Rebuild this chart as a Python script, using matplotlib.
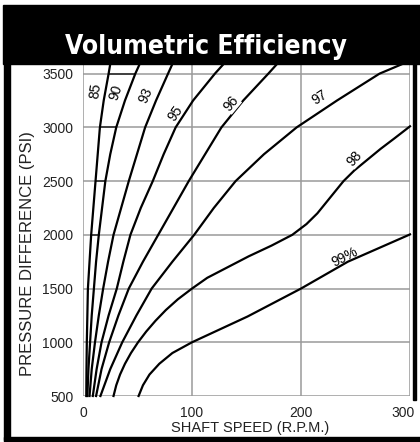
import matplotlib.pyplot as plt
from matplotlib.patches import Rectangle
from matplotlib.transforms import ScaledTranslation

# ---------------------------------------------------------------------------
# Data (rpm at each pressure level)
# ---------------------------------------------------------------------------
psi_levels = [500, 750, 1000, 1250, 1500, 1750, 2000, 2250, 2500, 2750, 3000, 3250, 3500, 3590]

eff_85 = [3, 3.2, 3.5, 4, 4.5, 6, 7.5, 9.5, 11.5, 13.5, 15.5, 19, 23.5, 25]
eff_90 = [4, 5, 6.5, 8, 10, 12, 14.5, 17.5, 20.5, 25, 30.5, 38.5, 48, 52]
eff_93 = [6, 8, 11, 14.5, 18.5, 23, 28, 35, 42, 49.5, 57, 67, 78, 82]
eff_95 = [9, 12.5, 17, 23.5, 31, 37, 43.5, 53, 64, 74, 85, 101, 121, 129]
eff_96 = [12, 17, 24, 32.5, 42, 55, 69, 83, 97, 112, 127, 147, 170, 178]
eff_97 = [16, 25, 36, 49, 63, 82, 102, 120, 140, 166, 196, 233, 272, 293]

eff_98_psi = [500, 600, 700, 800, 900, 1000, 1100, 1200, 1300, 1400, 1500, 1600, 1700,
              1800, 1900, 2000, 2100, 2200, 2300, 2400, 2500, 2600, 2700, 2800, 2900, 3010]
eff_98_rpm = [28, 30.5, 34, 38.5, 44, 50.5, 58, 66.5, 76, 87, 100, 114, 133,
              152, 173, 192, 205, 215, 223, 231, 239, 249, 261, 273, 286, 300]

eff_99_psi = [500, 600, 700, 800, 900, 1000, 1240, 1500, 1750, 2004]
eff_99_rpm = [51, 55, 61, 70, 82, 100, 151, 200, 243, 300]

curve_labels = ["85", "90", "93", "95", "96", "97", "98", "99%"]
label_rpm = [11.4, 29.8, 57.5, 85, 136, 217, 249, 240]
label_psi = [3340, 3325, 3295, 3128, 3220, 3280, 2710, 1793]
label_rot = [82, 72, 66, 55, 50, 33, 48, 27]

x_ticks = [0, 100, 200, 300]
y_ticks = [500, 1000, 1500, 2000, 2500, 3000, 3500]

W, H = 420, 442


def fx(px):
    return px / W


def fy(py):
    return 1 - py / H


fig = plt.figure(figsize=(4.2, 4.42), dpi=100)
fig.patch.set_facecolor("white")

# black frame: header, left bar, bottom bar, right bar
frame = [
    (3, 5, 420, 64),
    (4, 60, 10, 440),
    (4, 437, 420, 442),
    (413, 60, 416, 400),
]
for x0, y0, x1, y1 in frame:
    fig.patches.append(Rectangle((fx(x0), fy(y1)), fx(x1) - fx(x0), fy(y0) - fy(y1),
                                 transform=fig.transFigure, color="black", zorder=0))

fig.text(fx(206), fy(54), "Volumetric Efficiency", color="white", fontsize=19,
         fontweight="bold", family="DejaVu Sans", fontstretch="condensed",
         ha="center", va="baseline")

ax = fig.add_axes([fx(83), fy(396), fx(410) - fx(83), fy(64) - fy(396)])
ax.set_xlim(0, 300)
ax.set_ylim(500, 3590)

for s in ax.spines.values():
    s.set_visible(False)

# grid
for x in x_ticks:
    ax.axvline(x, color="#9a9a9a", lw=1.1, zorder=1)
for y in y_ticks:
    ax.axhline(y, color="#9a9a9a", lw=1.1, zorder=1)

ax.set_xticks(x_ticks)
ax.set_yticks(y_ticks)
ax.tick_params(length=0, labelsize=10, pad=7)
for t in ax.get_xticklabels() + ax.get_yticklabels():
    t.set_family("Liberation Sans")
    t.set_color("#222222")
# keep the last x label inside the frame
last = ax.get_xticklabels()[-1]
last.set_transform(last.get_transform() + ScaledTranslation(-5 / 72, 0, fig.dpi_scale_trans))

# curves
for rpm in [eff_85, eff_90, eff_93, eff_95, eff_96, eff_97]:
    ax.plot(rpm, psi_levels, color="black", lw=1.6, zorder=3, clip_on=False)
ax.plot(eff_98_rpm, eff_98_psi, color="black", lw=1.6, zorder=3, clip_on=False)
ax.plot(eff_99_rpm, eff_99_psi, color="black", lw=1.6, zorder=3, clip_on=False)

# dark ladder segments between 85 and 90 on the grid lines
for i, p in enumerate(psi_levels):
    if p in (2000, 2500, 3000, 3500):
        ax.plot([eff_85[i], eff_90[i]], [p, p], color="#222222", lw=1.1, zorder=2)

# curve labels
for txt, x, y, r in zip(curve_labels, label_rpm, label_psi, label_rot):
    boxed = txt in ("96", "98")
    ax.text(x, y, txt, rotation=r, fontsize=10, family="Liberation Sans",
            ha="center", va="center", zorder=4, rotation_mode="anchor",
            bbox=dict(facecolor="white", edgecolor="none", pad=0.3) if boxed else None)

fig.text(fx(28), fy(254), "PRESSURE DIFFERENCE (PSI)", rotation=90, fontsize=12,
         family="Liberation Sans", ha="center", va="center", color="#222222")
fig.text(fx(250), fy(428), "SHAFT SPEED (R.P.M.)", fontsize=10.5,
         family="Liberation Sans", ha="center", va="center", color="#222222")

fig.savefig("out.png", dpi=100)
